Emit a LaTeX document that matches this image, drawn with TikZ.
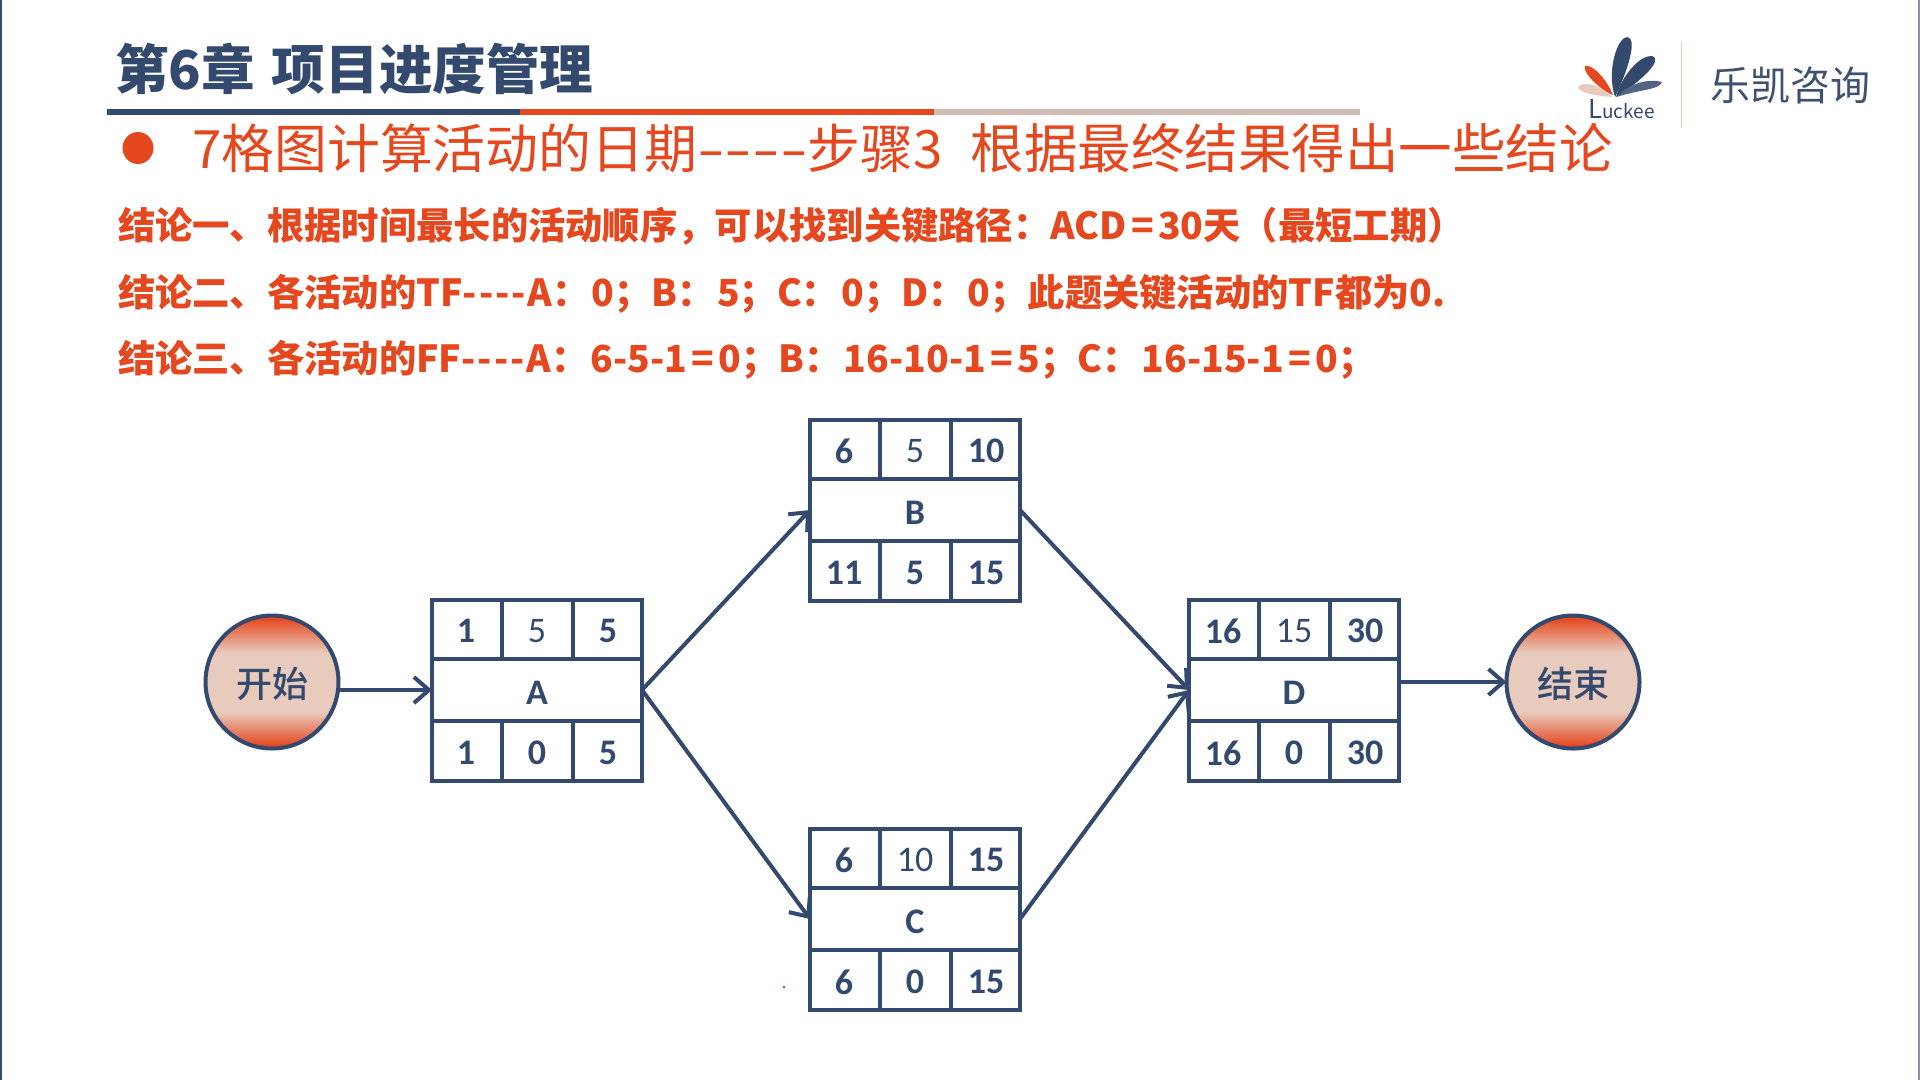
\documentclass[tikz,border=0pt]{standalone}
\usepackage{fontspec}
\usepackage{graphicx}
\setmainfont{Noto Sans CJK SC}
\newfontfamily\digitfont{Carlito}
\newfontfamily\midfont{Noto Sans CJK SC Medium}
\usetikzlibrary{arrows.meta,positioning,calc}
\definecolor{navy}{HTML}{34496E}
\definecolor{signal}{HTML}{E5481F}
\definecolor{sand}{HTML}{E8CBBD}
\pgfdeclareverticalshading{capband}{100bp}{color(0bp)=(signal); color(26bp)=(signal); color(39bp)=(sand);
  color(61bp)=(sand); color(74bp)=(signal); color(100bp)=(signal)}
\newcommand{\longdash}{\scalebox{1.5}[1]{-}}
\newcommand{\wideeq}{\hspace{4.4pt}=\hspace{4.4pt}}
\newcommand{\shortdash}{-\hspace{2pt}}
\tikzset{
  headline/.style={anchor=west,inner sep=0pt,outer sep=0pt,text=signal},
  verdict/.style={headline,font=\fontsize{37.3}{40}\selectfont\bfseries},
  outline/.style={draw=navy,line width=4pt},
  flow/.style={navy,line width=4pt,-{Straight Barb[length=15pt,width=26pt,line width=4pt]}},
  cell/.style={inner sep=0pt,outer sep=0pt,text=navy,font=\fontsize{36}{40}\selectfont\digitfont\bfseries},
  lightcell/.style={cell,font=\fontsize{36}{40}\selectfont\digitfont},
  endpoint/.style={circle,outline,minimum size=133pt,inner sep=0pt,outer sep=0pt,text=navy,
    text height=34pt,text depth=4pt,
    font=\fontsize{36}{40}\selectfont\midfont,shade,shading=capband},
}
\begin{document}
\begin{tikzpicture}[x=1pt,y=-1pt]
  \useasboundingbox (0,0) rectangle (1920,1080);
  \fill[white] (0,0) rectangle (1920,1080);
  \draw[navy,line width=1.5pt] (1,0) -- (1,1080);
  \draw[navy!60,line width=1.5pt] (1919,0) -- (1919,1080);

  % title and rule
  \node[headline,text=navy,font=\fontsize{53.6}{60}\selectfont\bfseries] (title) at (115,69) {第6章\hspace{17pt}项目进度管理};
  \fill[sand!80!gray] (520,108.5) rectangle (1360,114.5);
  \fill[navy] (107,108.5) rectangle (520,114.5);
  \fill[signal] (520,108.5) rectangle (934,114.5);

  % heading and conclusions
  \fill[signal] (138,148) ellipse (15.5 and 16);
  \node[headline,font=\fontsize{52.9}{60}\selectfont] (heading) at (192,148) {7格图计算活动的日期\longdash\longdash\longdash\longdash 步骤3\hspace{28pt}{\fontsize{53.5}{60}\selectfont 根据最终结果得出一些结论}};
  \node[verdict] (first) at (118,226) {结论一、根据时间最长的活动顺序，可以找到关键路径：ACD\wideeq 30天（最短工期）};
  \node[verdict] (second) at (118,294) {结论二、各活动的TF\shortdash\shortdash\shortdash\shortdash A：\hspace{2pt}0；B：\hspace{2pt}5；C：\hspace{2pt}0；D：\hspace{2pt}0；此题关键活动的TF都为0.};
  \node[verdict] (third) at (118,360) {结论三、各活动的FF\shortdash\shortdash\shortdash\shortdash A：\hspace{2pt}6-5-1\wideeq 0；B：\hspace{2pt}16-10-1\wideeq 5；C：\hspace{2pt}16-15-1\wideeq 0；};

  % logo
  \fill[navy] (1615,97) .. controls (1606,70) and (1618,37) .. (1627,37) .. controls (1638,38) and (1628,70) .. (1615,97) -- cycle;
  \fill[navy] (1616,97) .. controls (1622,75) and (1640,55) .. (1652,56) .. controls (1664,60) and (1640,82) .. (1616,97) -- cycle;
  \fill[navy!85] (1617,97) .. controls (1628,84) and (1648,78) .. (1662,82) .. controls (1660,90) and (1636,90) .. (1617,97) -- cycle;
  \fill[signal] (1613,95) .. controls (1600,90) and (1582,72) .. (1585,66) .. controls (1592,64) and (1606,78) .. (1613,95) -- cycle;
  \fill[sand] (1612,97) .. controls (1600,96) and (1580,94) .. (1578,87) .. controls (1584,80) and (1602,86) .. (1612,97) -- cycle;
  \node[anchor=west,inner sep=0pt,text=navy,font=\fontsize{19}{20}\selectfont] (luckee) at (1588,109) {{\fontsize{26}{26}\selectfont L}uckee};
  \draw[sand,line width=1pt] (1681,42) -- (1681,128);
  \node[anchor=west,inner sep=0pt,text=navy!85!gray,font=\fontsize{40}{44}\selectfont] (brand) at (1710,85) {乐凯咨询};

  % activity boxes
  \foreach \name/\px/\py/\es/\dur/\ef/\ls/\tf/\lf in {
      A/430/598/1/5/5/1/0/5,
      B/808/418/6/5/10/11/5/15,
      C/808/827/6/10/15/6/0/15,
      D/1187/598/16/15/30/16/0/30} {
    \node[outline,rectangle,minimum width=210pt,minimum height=181pt,inner sep=0pt,outer sep=0pt,
      text height=28pt,text depth=0pt,
      text=navy,font=\fontsize{36}{40}\selectfont\digitfont\bfseries] (\name) at (\px+107,\py+92) {\name};
    \draw[outline] (\px+2,\py+61) -- (\px+212,\py+61);
    \draw[outline] (\px+2,\py+123) -- (\px+212,\py+123);
    \draw[outline] (\px+72,\py+2) -- (\px+72,\py+61);
    \draw[outline] (\px+143,\py+2) -- (\px+143,\py+61);
    \draw[outline] (\px+72,\py+123) -- (\px+72,\py+182);
    \draw[outline] (\px+143,\py+123) -- (\px+143,\py+182);
    \node[cell] (\name es) at (\px+36,\py+33) {\es};
    \node[lightcell] (\name dur) at (\px+107,\py+33) {\dur};
    \node[cell] (\name ef) at (\px+178,\py+33) {\ef};
    \node[cell] (\name ls) at (\px+36,\py+155) {\ls};
    \node[cell] (\name tf) at (\px+107,\py+155) {\tf};
    \node[cell] (\name lf) at (\px+178,\py+155) {\lf};
  }

  % start and finish
  \node[endpoint] (start) at (272,682) {开始};
  \node[endpoint] (finish) at (1573,682) {结束};

  \draw[flow] (start.east |- A.west) -- (A.west);
  \draw[flow] (A.east) -- (B.west);
  \draw[flow] (A.east) -- (C.west);
  \draw[flow] (B.east) -- (D.west);
  \draw[flow] (C.east) -- (D.west);
  \draw[flow] (D.east |- finish.west) -- (finish.west);

  \fill[signal] (784,987) circle (1.5);
\end{tikzpicture}
\end{document}
